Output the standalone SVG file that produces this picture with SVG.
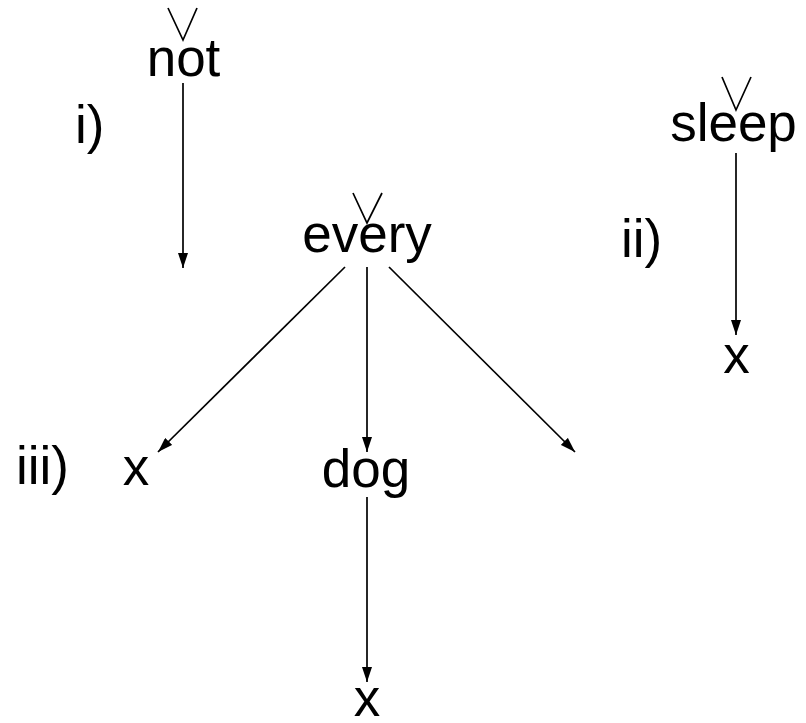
<svg xmlns="http://www.w3.org/2000/svg" width="806" height="723" viewBox="0 0 806 723">
<style>
text{font-family:"Liberation Sans",Arial,sans-serif;font-size:53px;fill:#000}
.n{text-anchor:middle}
.c line{stroke:#000;stroke-width:1.7}
.v{fill:none;stroke:#000;stroke-width:1.7}
</style>
<defs>
<marker id="ah" markerUnits="userSpaceOnUse" markerWidth="15" markerHeight="10" refX="15" refY="5" orient="auto">
<path d="M0,0 L15,5 L0,10 z" fill="#000"/>
</marker>
</defs>
<rect width="806" height="723" fill="#fff"/>
<g id="connectors" class="c">
<line x1="183" y1="83" x2="183" y2="268" marker-end="url(#ah)"/>
<line x1="345" y1="267" x2="158" y2="452" marker-end="url(#ah)"/>
<line x1="367" y1="267" x2="367" y2="452" marker-end="url(#ah)"/>
<line x1="389" y1="267" x2="575" y2="452" marker-end="url(#ah)"/>
<line x1="367" y1="497" x2="367" y2="682" marker-end="url(#ah)"/>
<line x1="736" y1="153" x2="736" y2="335" marker-end="url(#ah)"/>
</g>
<g id="not"><polyline class="v" points="168,8 183,40 197,8"/><text class="n" x="183.5" y="76">not</text></g>
<g id="every"><polyline class="v" points="353,193 367,223 382,193"/><text class="n" x="367" y="252">every</text></g>
<g id="sleep"><polyline class="v" points="722,77 736,110 751,77"/><text class="n" x="733.5" y="141">sleep</text></g>
<g id="dog"><text class="n" x="366" y="487">dog</text></g>
<g id="x-dog"><text class="n" x="367" y="716">x</text></g>
<g id="x-sleep"><text class="n" x="736.5" y="373">x</text></g>
<g id="x-every"><text class="n" x="136" y="485">x</text></g>
<g id="label-i"><text x="75" y="143">i)</text></g>
<g id="label-ii"><text x="621" y="257">ii)</text></g>
<g id="label-iii"><text x="16" y="484">iii)</text></g>
</svg>
